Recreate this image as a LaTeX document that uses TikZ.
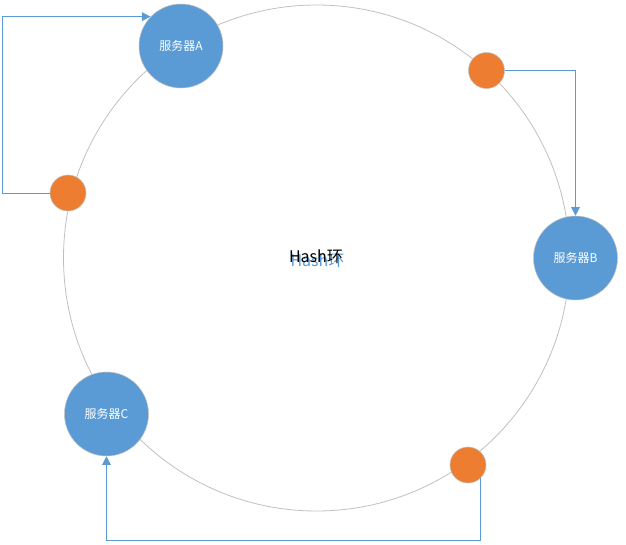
\documentclass[tikz,border=0pt]{standalone}
\usepackage{fontspec}
\newfontfamily\cjk{Noto Sans CJK SC}
\usetikzlibrary{arrows.meta}
\definecolor{srvblue}{HTML}{5B9BD5}
\definecolor{keyorange}{HTML}{ED7D31}
\definecolor{ringgray}{HTML}{C0C0C0}

\begin{document}
\begin{tikzpicture}[x=0.75pt, y=-0.75pt, >={Triangle[length=6.5pt, width=6.5pt]},
  server/.style={circle, fill=srvblue, draw=ringgray, line width=0.4pt, minimum size=63pt, inner sep=0pt, text=white, font=\cjk\fontsize{9}{11}\selectfont},
  hashkey/.style={circle, fill=keyorange, draw=ringgray, line width=0.4pt, minimum size=27pt, inner sep=0pt},
  link/.style={draw=srvblue, line width=0.75pt}]

\useasboundingbox (0,0) rectangle (626,544);

% the ring
\node[circle, draw=ringgray, line width=0.6pt, minimum size=379.5pt, inner sep=0pt] (ring) at (316.5,258) {};
\node[text=srvblue, font=\cjk\fontsize{12}{14}\selectfont] (titleshade) at (317.5,261) {Hash环};
\node[font=\cjk\fontsize{12}{14}\selectfont] (title) at (316,257) {Hash环};

% servers
\node[server] (a) at (181,46) {服务器A};
\node[server] (b) at (575.5,258) {服务器B};
\node[server] (c) at (106.5,414) {服务器C};

% keys
\node[hashkey] (k1) at (68,193) {};
\node[hashkey] (k2) at (486.5,70.5) {};
\node[hashkey] (k3) at (468,465) {};

% key -> server
\draw[link, ->] (k1.west) -- ++(-47,0) |- (a.136);
\draw[link, ->] (k2.east) -| (b.north);
\draw[link, ->] (k3.-45) -- ++(0,62.3) -| (c.south);

\end{tikzpicture}
\end{document}
